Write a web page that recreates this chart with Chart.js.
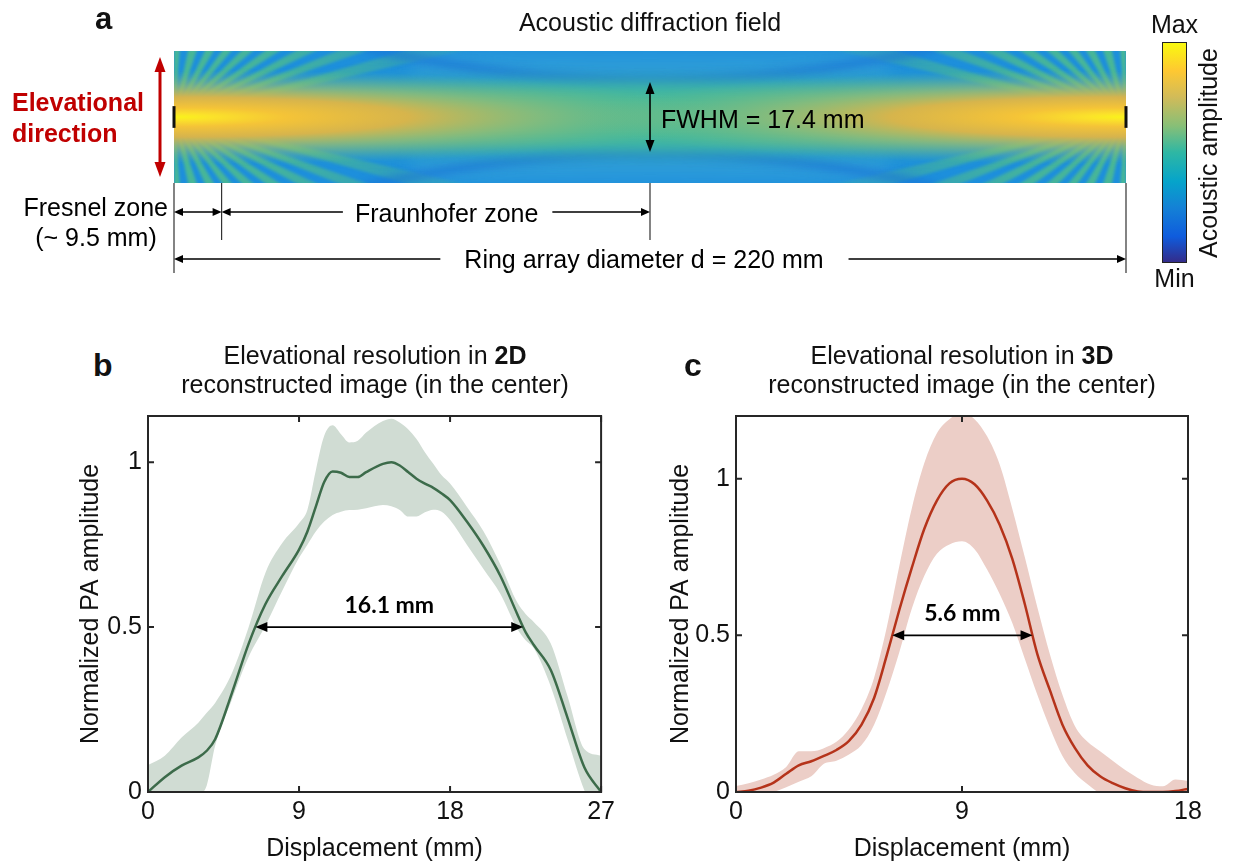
<!DOCTYPE html>
<html>
<head>
<meta charset="utf-8">
<script src="https://cdn.jsdelivr.net/npm/chart.js@4.4.1/dist/chart.umd.min.js"></script>
<style>
  body { margin: 0; background: #fff; font-family: "Liberation Sans", Arial, sans-serif; color: #111; }
  #page { position: relative; width: 1233px; height: 867px; overflow: hidden; }
  .box { position: absolute; }
  .lbl { position: absolute; white-space: nowrap; }
  .letter { font-weight: bold; font-size: 32px; line-height: 32px; }
  .ttl { font-size: 25px; line-height: 29px; text-align: center; width: 520px; }
</style>
</head>
<body>
<div id="page">
  <div class="box" style="left:0;top:0;width:1233px;height:300px"><canvas id="chart-a"></canvas></div>
  <div class="box" style="left:60px;top:395px;width:560px;height:472px"><canvas id="chart-b"></canvas></div>
  <div class="box" style="left:650px;top:395px;width:583px;height:472px"><canvas id="chart-c"></canvas></div>

  <div class="lbl letter" style="left:93px;top:349px">b</div>
  <div class="lbl ttl" style="left:115px;top:341px">Elevational resolution in <b>2D</b><br>reconstructed image (in the center)</div>
  <div class="lbl letter" style="left:684px;top:349px">c</div>
  <div class="lbl ttl" style="left:702px;top:341px">Elevational resolution in <b>3D</b><br>reconstructed image (in the center)</div>
</div>

<script>
  /*
    ==================================================
    ====================== DATA ======================
    ==================================================
  */

  // panel b : 2D reconstruction, displacement in mm
  const dispB = [0, 1, 2, 3, 3.5, 4, 5, 6, 7, 8, 9, 9.5, 10, 10.5, 11, 11.5, 12, 12.5, 13, 14, 14.5, 15, 15.5, 16, 16.5, 17, 17.5, 18, 19, 20, 21, 22, 22.5, 23, 24, 25, 26, 27];
  const meanB = [0, 0.045, 0.08, 0.105, 0.125, 0.16, 0.30, 0.45, 0.57, 0.655, 0.735, 0.79, 0.865, 0.94, 0.972, 0.968, 0.955, 0.955, 0.97, 0.995, 1.0, 0.99, 0.97, 0.95, 0.935, 0.922, 0.905, 0.885, 0.82, 0.745, 0.655, 0.54, 0.485, 0.445, 0.37, 0.225, 0.075, 0];
  const upperB = [0.082, 0.11, 0.165, 0.21, 0.24, 0.27, 0.36, 0.50, 0.665, 0.755, 0.815, 0.856, 0.975, 1.08, 1.112, 1.085, 1.06, 1.065, 1.09, 1.125, 1.132, 1.12, 1.1, 1.07, 1.03, 0.995, 0.96, 0.935, 0.865, 0.79, 0.69, 0.575, 0.54, 0.515, 0.45, 0.29, 0.13, 0.11];
  const lowerB = [-0.05, -0.05, -0.03, -0.01, 0.02, 0.14, 0.28, 0.41, 0.505, 0.61, 0.71, 0.75, 0.79, 0.82, 0.84, 0.85, 0.855, 0.856, 0.86, 0.87, 0.866, 0.855, 0.835, 0.835, 0.848, 0.856, 0.85, 0.825, 0.75, 0.675, 0.6, 0.495, 0.46, 0.435, 0.32, 0.16, 0.005, -0.1];
  const xTicksB = [0, 9, 18, 27];
  const yTicksB = [0, 0.5, 1];
  const fwhmB = [6.4, 22.36];

  // panel c : 3D reconstruction
  const dispC = [0, 0.5, 1, 1.5, 2, 2.5, 3, 3.5, 4, 4.5, 5, 5.5, 6, 6.5, 7, 7.5, 8, 8.5, 9, 9.5, 10, 10.5, 11, 11.5, 12, 12.5, 13, 13.5, 14, 14.5, 15, 15.5, 16, 16.5, 17, 17.5, 18];
  const meanC = [0, 0.004, 0.014, 0.03, 0.058, 0.085, 0.098, 0.115, 0.134, 0.163, 0.215, 0.3, 0.435, 0.58, 0.715, 0.84, 0.93, 0.985, 1.0, 0.982, 0.93, 0.853, 0.745, 0.6, 0.44, 0.325, 0.215, 0.14, 0.085, 0.05, 0.028, 0.012, 0.002, 0, 0, 0.003, 0.01];
  const upperC = [0.019, 0.028, 0.04, 0.055, 0.08, 0.13, 0.13, 0.14, 0.16, 0.2, 0.265, 0.365, 0.524, 0.72, 0.905, 1.05, 1.145, 1.19, 1.21, 1.19, 1.135, 1.045, 0.905, 0.75, 0.59, 0.44, 0.31, 0.21, 0.16, 0.13, 0.1, 0.07, 0.045, 0.024, 0.018, 0.04, 0.035];
  const lowerC = [-0.02, -0.015, -0.01, 0, 0.015, 0.033, 0.05, 0.09, 0.1, 0.12, 0.15, 0.215, 0.32, 0.445, 0.585, 0.69, 0.76, 0.79, 0.8, 0.775, 0.71, 0.632, 0.54, 0.425, 0.31, 0.205, 0.115, 0.06, 0.025, -0.005, -0.02, -0.025, -0.02, -0.015, -0.01, -0.01, -0.01];
  const xTicksC = [0, 9, 18];
  const yTicksC = [0, 0.5, 1];
  const fwhmC = [6.22, 11.81];

  // panel a : diffraction field (mm)
  const ringDiameter = 220;
  const fresnelEnd = 11;          // where the figure draws the ~9.5 mm boundary
  const fieldHalfHeight = 16.4;
  const fieldFwhm = 17.4;
  const elementHalf = 2.7;
  const fraunhoferLabelAt = 63;
  const ringLabelAt = 108.6;
  // fan of near-field lobes, degrees off the axis (green between each pair)
  const rayAngles = [13, 16, 19, 22, 25, 28.5, 32, 36, 40, 44.5, 49, 54, 59, 65, 71, 78, 85, 90];

  const parula = [[0, '#352a87'], [0.12, '#0f5cdd'], [0.25, '#1481d6'], [0.37, '#06a4ca'], [0.5, '#2eb7a4'],
                  [0.62, '#87bf77'], [0.75, '#d1bb59'], [0.87, '#fec832'], [1, '#f9fb0e']];

  const FONT = '"Liberation Sans", Arial, sans-serif';
  Chart.defaults.font.family = FONT;
  Chart.defaults.color = '#111';

  /*
    ==================================================
    ===================== HELPERS ====================
    ==================================================
  */

  let arrowHead = (ctx, x, y, dx, dy, len, half) => {
    ctx.beginPath();
    ctx.moveTo(x, y);
    ctx.lineTo(x - dx * len - dy * half, y - dy * len + dx * half);
    ctx.lineTo(x - dx * len + dy * half, y - dy * len - dx * half);
    ctx.closePath();
    ctx.fill();
  };

  let paintField = (ctx, area, ys) => {
    const W = Math.round(area.right - area.left), H = Math.round(area.bottom - area.top);
    const cy = ys.getPixelForValue(0) - area.top;
    const off = document.createElement('canvas');
    off.width = W; off.height = H;
    const g = off.getContext('2d');

    g.fillStyle = '#1d8fdc';
    g.fillRect(0, 0, W, H);

    // lighter side lobes between the first nulls and the edges
    g.save();
    g.filter = 'blur(9px)';
    g.fillStyle = 'rgba(70,175,215,0.5)';
    [-1, 1].forEach(s => {
      g.beginPath();
      g.moveTo(W * 0.25, cy + s * 44);
      g.quadraticCurveTo(W / 2, cy + s * 40, W * 0.75, cy + s * 44);
      g.lineTo(W * 0.75, cy + s * 62);
      g.quadraticCurveTo(W / 2, cy + s * 58, W * 0.25, cy + s * 62);
      g.closePath();
      g.fill();
    });
    g.restore();

    // radiating near-field lobes from each element
    [0, W].forEach((ox, k) => {
      const dir = k === 0 ? 1 : -1;
      const rays = document.createElement('canvas');
      rays.width = W; rays.height = H;
      const r = rays.getContext('2d');
      r.filter = 'blur(1.5px)';
      r.fillStyle = '#4fbd8b';
      for (let i = 0; i + 1 < rayAngles.length; i += 2) {
        const a1 = rayAngles[i] * Math.PI / 180, a2 = rayAngles[i + 1] * Math.PI / 180;
        [-1, 1].forEach(s => {
          r.beginPath();
          r.moveTo(ox, cy);
          r.lineTo(ox + dir * 900 * Math.cos(a1), cy + s * 900 * Math.sin(a1));
          r.lineTo(ox + dir * 900 * Math.cos(a2), cy + s * 900 * Math.sin(a2));
          r.closePath();
          r.fill();
        });
      }
      r.filter = 'none';
      r.globalCompositeOperation = 'destination-in';
      const m = r.createRadialGradient(ox, cy, 0, ox, cy, 430);
      m.addColorStop(0, 'rgba(0,0,0,0.95)');
      m.addColorStop(0.25, 'rgba(0,0,0,0.8)');
      m.addColorStop(0.6, 'rgba(0,0,0,0.28)');
      m.addColorStop(1, 'rgba(0,0,0,0)');
      r.fillStyle = m;
      r.fillRect(0, 0, W, H);
      g.drawImage(rays, 0, 0);
    });

    // first nulls framing the central lens
    g.save();
    g.filter = 'blur(4px)';
    g.strokeStyle = 'rgba(24,112,214,0.75)';
    g.lineWidth = 7;
    [-1, 1].forEach(s => {
      g.beginPath();
      g.moveTo(W * 0.2, cy + s * (cy + 4));
      g.quadraticCurveTo(W / 2, cy + s * 2, W * 0.8, cy + s * (cy + 4));
      g.stroke();
    });
    g.restore();

    // main lobe along the axis
    g.save();
    g.filter = 'blur(9px)';
    g.fillStyle = '#44b99c';
    g.beginPath();
    g.moveTo(0, cy - 24);
    g.quadraticCurveTo(W / 2, cy - 48, W, cy - 24);
    g.lineTo(W, cy + 24);
    g.quadraticCurveTo(W / 2, cy + 48, 0, cy + 24);
    g.closePath();
    g.fill();
    g.restore();

    // bright cores next to the elements
    [0, W].forEach(ox => {
      g.save();
      g.translate(ox, cy);
      g.scale(1, 0.085);
      const cg = g.createRadialGradient(0, 0, 0, 0, 0, 560);
      cg.addColorStop(0, '#f9f41a');
      cg.addColorStop(0.07, '#fbe22a');
      cg.addColorStop(0.2, 'rgba(250,196,52,0.97)');
      cg.addColorStop(0.42, 'rgba(240,180,62,0.85)');
      cg.addColorStop(0.65, 'rgba(190,190,96,0.5)');
      cg.addColorStop(1, 'rgba(110,190,130,0)');
      g.fillStyle = cg;
      g.beginPath();
      g.arc(0, 0, 560, 0, Math.PI * 2);
      g.fill();
      g.restore();
    });

    ctx.drawImage(off, area.left, area.top);
  };

  /*
    ==================================================
    ==================== PANEL A =====================
    ==================================================
  */

  const fieldPlugin = {
    id: 'fieldPlugin',
    beforeDatasetsDraw(chart) {
      paintField(chart.ctx, chart.chartArea, chart.scales.y);
    },
    afterDraw(chart) {
      const { ctx, chartArea: a, scales: { x, y } } = chart;
      const x0 = x.getPixelForValue(0), xf = x.getPixelForValue(fresnelEnd);
      const xm = x.getPixelForValue(ringDiameter / 2), x1 = x.getPixelForValue(ringDiameter);
      const fy = a.bottom + 29, ry = a.bottom + 76;
      ctx.save();

      ctx.fillStyle = '#111';
      ctx.font = 'bold 31px ' + FONT;
      ctx.fillText('a', 95, 29);
      ctx.font = '25px ' + FONT;
      ctx.textAlign = 'center';
      ctx.fillText('Acoustic diffraction field', 650, 31);

      // elevational direction
      ctx.strokeStyle = '#c00000'; ctx.fillStyle = '#c00000'; ctx.lineWidth = 3;
      ctx.beginPath(); ctx.moveTo(160, 70); ctx.lineTo(160, 164); ctx.stroke();
      arrowHead(ctx, 160, 57, 0, -1, 15, 5.5);
      arrowHead(ctx, 160, 177, 0, 1, 15, 5.5);
      ctx.font = 'bold 25px ' + FONT;
      ctx.textAlign = 'left';
      ctx.fillText('Elevational', 12, 111);
      ctx.fillText('direction', 12, 142);

      // FWHM
      ctx.strokeStyle = '#000'; ctx.fillStyle = '#000'; ctx.lineWidth = 1.6;
      const fTop = y.getPixelForValue(fieldFwhm / 2), fBot = y.getPixelForValue(-fieldFwhm / 2);
      ctx.beginPath(); ctx.moveTo(xm, fTop + 10); ctx.lineTo(xm, fBot - 10); ctx.stroke();
      arrowHead(ctx, xm, fTop, 0, -1, 12, 4.5);
      arrowHead(ctx, xm, fBot, 0, 1, 12, 4.5);
      ctx.font = '25px ' + FONT;
      ctx.fillText('FWHM = 17.4 mm', xm + 11, 128);

      // dimension lines
      ctx.strokeStyle = '#333'; ctx.lineWidth = 1.2;
      ctx.beginPath();
      ctx.moveTo(x0, a.bottom); ctx.lineTo(x0, a.bottom + 90);
      ctx.moveTo(x1, a.bottom); ctx.lineTo(x1, a.bottom + 90);
      ctx.moveTo(xf, a.bottom); ctx.lineTo(xf, a.bottom + 57);
      ctx.moveTo(xm, a.bottom); ctx.lineTo(xm, a.bottom + 57);
      ctx.stroke();

      ctx.strokeStyle = '#000'; ctx.lineWidth = 1.5;
      const fraW = ctx.measureText('Fraunhofer zone').width;
      const ringW = ctx.measureText('Ring array diameter d = 220 mm').width;
      const fraC = x.getPixelForValue(fraunhoferLabelAt), ringC = x.getPixelForValue(ringLabelAt);
      ctx.beginPath();
      ctx.moveTo(x0 + 6, fy); ctx.lineTo(xf - 6, fy);
      ctx.moveTo(xf + 6, fy); ctx.lineTo(fraC - fraW / 2 - 12, fy);
      ctx.moveTo(fraC + fraW / 2 + 14, fy); ctx.lineTo(xm - 6, fy);
      ctx.moveTo(x0 + 6, ry); ctx.lineTo(ringC - ringW / 2 - 24, ry);
      ctx.moveTo(ringC + ringW / 2 + 25, ry); ctx.lineTo(x1 - 6, ry);
      ctx.stroke();
      arrowHead(ctx, x0, fy, -1, 0, 9, 4);
      arrowHead(ctx, xf, fy, 1, 0, 9, 4);
      arrowHead(ctx, xf, fy, -1, 0, 9, 4);
      arrowHead(ctx, xm, fy, 1, 0, 9, 4);
      arrowHead(ctx, x0, ry, -1, 0, 9, 4);
      arrowHead(ctx, x1, ry, 1, 0, 9, 4);

      ctx.textAlign = 'center';
      ctx.fillText('Fraunhofer zone', fraC, 222);
      ctx.fillText('Ring array diameter d = 220 mm', ringC, 268);
      ctx.fillText('(~ 9.5 mm)', 96, 246);
      ctx.textAlign = 'right';
      ctx.fillText('Fresnel zone', 168, 216);

      // colour bar
      const cb = { l: 1162, r: 1187, t: 42, b: 263 };
      const grad = ctx.createLinearGradient(0, cb.b, 0, cb.t);
      parula.forEach(([s, c]) => grad.addColorStop(s, c));
      ctx.fillStyle = grad;
      ctx.fillRect(cb.l, cb.t, cb.r - cb.l, cb.b - cb.t);
      ctx.strokeStyle = '#222'; ctx.lineWidth = 1;
      ctx.strokeRect(cb.l + 0.5, cb.t + 0.5, cb.r - cb.l - 1, cb.b - cb.t - 1);
      ctx.fillStyle = '#111';
      ctx.textAlign = 'center';
      ctx.fillText('Max', (cb.l + cb.r) / 2, 33);
      ctx.fillText('Min', (cb.l + cb.r) / 2, 287);
      ctx.translate(1217, 153);
      ctx.rotate(-Math.PI / 2);
      ctx.fillText('Acoustic amplitude', 0, 0);

      ctx.restore();
    }
  };

  new Chart(document.getElementById('chart-a'), {
    type: 'scatter',
    data: {
      datasets: [
        { data: [{ x: 0, y: -elementHalf }, { x: 0, y: elementHalf }], showLine: true, borderColor: '#111', borderWidth: 3, pointRadius: 0, clip: false },
        { data: [{ x: ringDiameter, y: -elementHalf }, { x: ringDiameter, y: elementHalf }], showLine: true, borderColor: '#111', borderWidth: 3, pointRadius: 0, clip: false }
      ]
    },
    options: {
      responsive: true,
      maintainAspectRatio: false,
      animation: false,
      layout: { padding: { left: 174, right: 107, top: 51, bottom: 117 } },
      plugins: { legend: { display: false }, tooltip: { enabled: false } },
      scales: {
        x: { type: 'linear', display: false, min: 0, max: ringDiameter },
        y: { type: 'linear', display: false, min: -fieldHalfHeight, max: fieldHalfHeight }
      }
    },
    plugins: [fieldPlugin]
  });

  /*
    ==================================================
    ================== PANELS B / C ==================
    ==================================================
  */

  const frame = {
    id: 'frame',
    afterDatasetsDraw(chart) {
      const { ctx, chartArea: { left, top, right, bottom }, scales: { x, y } } = chart;
      ctx.save();
      ctx.strokeStyle = '#262626';
      ctx.lineWidth = 2;
      ctx.strokeRect(left, top, right - left, bottom - top);
      ctx.beginPath();
      x.ticks.forEach(t => {
        const px = x.getPixelForValue(t.value);
        ctx.moveTo(px, bottom); ctx.lineTo(px, bottom - 6);
        ctx.moveTo(px, top); ctx.lineTo(px, top + 6);
      });
      y.ticks.forEach(t => {
        const py = y.getPixelForValue(t.value);
        ctx.moveTo(left, py); ctx.lineTo(left + 6, py);
        ctx.moveTo(right, py); ctx.lineTo(right - 6, py);
      });
      ctx.stroke();
      ctx.restore();
    }
  };

  const fwhmMarker = {
    id: 'fwhmMarker',
    afterDatasetsDraw(chart, args, opts) {
      const { ctx, scales: { x, y } } = chart;
      const p0 = x.getPixelForValue(opts.span[0]), p1 = x.getPixelForValue(opts.span[1]);
      const py = y.getPixelForValue(0.5);
      ctx.save();
      ctx.strokeStyle = '#000'; ctx.fillStyle = '#000'; ctx.lineWidth = 1.6;
      ctx.beginPath(); ctx.moveTo(p0 + 10, py); ctx.lineTo(p1 - 10, py); ctx.stroke();
      arrowHead(ctx, p0, py, -1, 0, 12, 5);
      arrowHead(ctx, p1, py, 1, 0, 12, 5);
      ctx.font = 'bold 23px Lato, "Open Sans", sans-serif';
      ctx.textAlign = 'center';
      ctx.fillText(opts.label, (p0 + p1) / 2, py - 14);
      ctx.restore();
    }
  };

  let profileChart = (id, cfg) => {
    const pts = ys => cfg.disp.map((x, i) => ({ x, y: ys[i] }));
    return new Chart(document.getElementById(id), {
      type: 'line',
      data: {
        datasets: [
          { data: pts(cfg.upper), fill: '+1', backgroundColor: cfg.band, borderWidth: 0, pointRadius: 0, order: 2 },
          { data: pts(cfg.lower), fill: false, borderWidth: 0, pointRadius: 0, order: 1 },
          { data: pts(cfg.mean), fill: false, borderColor: cfg.line, borderWidth: 2.5, pointRadius: 0, order: 0 }
        ]
      },
      options: {
        responsive: true,
        maintainAspectRatio: false,
        animation: false,
        elements: { line: { cubicInterpolationMode: 'monotone' } },
        layout: { padding: { top: 11, right: cfg.padRight, left: 0, bottom: 0 } },
        plugins: {
          legend: { display: false },
          tooltip: { enabled: false },
          fwhmMarker: { span: cfg.fwhm, label: cfg.label }
        },
        scales: {
          x: {
            type: 'linear', min: 0, max: cfg.xMax,
            grid: { display: false, drawTicks: false },
            border: { display: false },
            afterBuildTicks: s => { s.ticks = cfg.xTicks.map(value => ({ value })); },
            afterFit: s => { s.height = 75; },
            ticks: { font: { size: 25 }, color: '#111', padding: 5, maxRotation: 0, autoSkip: false, callback: v => String(v) },
            title: { display: true, text: 'Displacement (mm)', font: { size: 25 }, color: '#111', padding: { top: 0, bottom: 3 } }
          },
          y: {
            type: 'linear', min: 0, max: cfg.yMax,
            grid: { display: false, drawTicks: false },
            border: { display: false },
            afterBuildTicks: s => { s.ticks = cfg.yTicks.map(value => ({ value })); },
            afterFit: s => { s.width = cfg.axisW; },
            ticks: { font: { size: 25 }, color: '#111', padding: 6, callback: v => String(v) },
            title: { display: true, text: 'Normalized PA amplitude', font: { size: 25 }, color: '#111', padding: { top: 16, bottom: 0 } }
          }
        }
      },
      plugins: [frame, fwhmMarker]
    });
  };

  profileChart('chart-b', {
    disp: dispB, mean: meanB, upper: upperB, lower: lowerB,
    xTicks: xTicksB, yTicks: yTicksB, xMax: 27, yMax: 1.14,
    fwhm: fwhmB, label: '16.1 mm',
    line: '#3c6b4a', band: '#d0dcd3', axisW: 88, padRight: 18
  });

  profileChart('chart-c', {
    disp: dispC, mean: meanC, upper: upperC, lower: lowerC,
    xTicks: xTicksC, yTicks: yTicksC, xMax: 18, yMax: 1.2,
    fwhm: fwhmC, label: '5.6 mm',
    line: '#b5331a', band: '#eccec7', axisW: 86, padRight: 45
  });
</script>
</body>
</html>
